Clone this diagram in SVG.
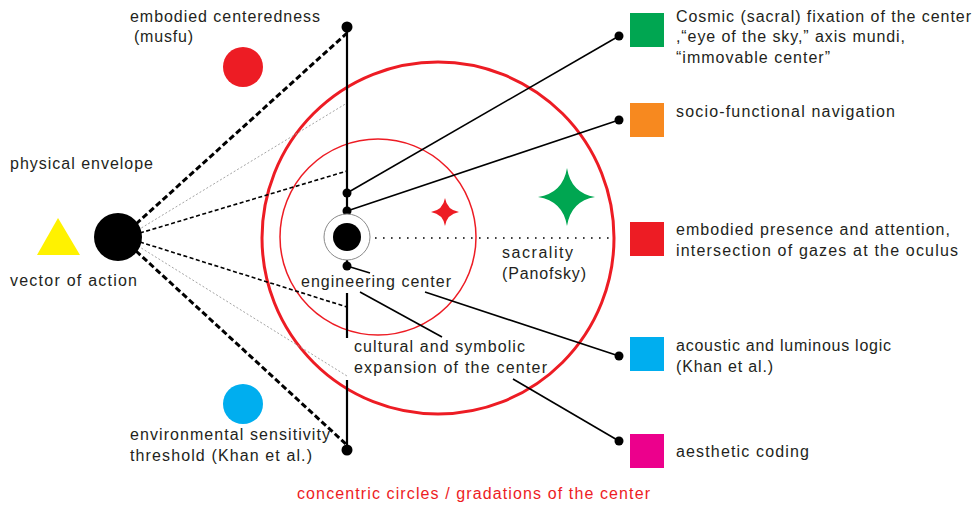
<svg xmlns="http://www.w3.org/2000/svg" width="975" height="506" viewBox="0 0 975 506">
<style>
text{font-family:"Liberation Sans",Arial,sans-serif;font-size:16px;fill:#231f20}
.red{fill:#ed1c24}
.ln{stroke:#000;stroke-width:1.6;fill:none}
.axis{stroke:#000;stroke-width:2.2;fill:none}
.thick{stroke:#000;stroke-width:3;stroke-dasharray:6 3;fill:none}
.thin{stroke:#000;stroke-width:1.6;stroke-dasharray:4 2.5;fill:none}
.gray{stroke:#9a9a9a;stroke-width:0.9;stroke-dasharray:2 2;fill:none}
.dot{fill:#000}
</style>
<rect width="975" height="506" fill="#fff"/>
<g id="circles">
<circle cx="438" cy="238" r="176" fill="none" stroke="#ed1c24" stroke-width="3"/>
<circle cx="378" cy="237" r="98" fill="none" stroke="#ed1c24" stroke-width="1.5"/>
</g>
<g id="connectors">
<line class="thick" x1="136" y1="224" x2="347" y2="33"/>
<line class="gray" x1="138" y1="230" x2="347" y2="103"/>
<line class="thin" x1="140" y1="233" x2="347" y2="171"/>
<line class="thin" x1="140" y1="242" x2="347" y2="307"/>
<line class="gray" x1="138" y1="246" x2="347" y2="376"/>
<line class="thick" x1="136" y1="251" x2="347" y2="445"/>
<line class="axis" x1="347" y1="27" x2="347" y2="214"/>
<line class="axis" x1="347" y1="260" x2="347" y2="266"/>
<line class="axis" x1="347" y1="293" x2="347" y2="338"/>
<line class="axis" x1="347" y1="380" x2="347" y2="450"/>
<line class="ln" x1="347" y1="193" x2="619" y2="36"/>
<line class="ln" x1="347" y1="211" x2="619" y2="120"/>
<line class="ln" x1="347" y1="266" x2="370" y2="273"/>
<line stroke="#000" stroke-width="1.6" stroke-dasharray="1.6 6.4" x1="375" y1="238" x2="614" y2="238"/>
<line class="ln" x1="360" y1="292" x2="442" y2="337"/>
<line class="ln" x1="425" y1="292" x2="619" y2="356"/>
<line class="ln" x1="513" y1="379" x2="619" y2="441"/>
<circle class="dot" cx="347" cy="27" r="5.5"/>
<circle class="dot" cx="347" cy="450" r="5.5"/>
<circle class="dot" cx="347" cy="193" r="4.5"/>
<circle class="dot" cx="347" cy="211" r="4.5"/>
<circle class="dot" cx="347" cy="266" r="4.5"/>
<circle class="dot" cx="619" cy="36" r="4.5"/>
<circle class="dot" cx="619" cy="120" r="4.5"/>
<circle class="dot" cx="619" cy="356" r="4.5"/>
<circle class="dot" cx="619" cy="441" r="4.5"/>
</g>
<g id="center-node">
<circle cx="347" cy="237" r="23" fill="#fff" stroke="#8a8a8a" stroke-width="1"/>
<circle cx="347" cy="237" r="14" fill="#000"/>
</g>
<g id="body-node">
<circle cx="118" cy="237" r="24" fill="#000"/>
</g>
<g id="triangle">
<polygon points="58,218 80,255 37,255" fill="#fff200"/>
</g>
<g id="red-dot"><circle cx="243" cy="67" r="20" fill="#ed1c24"/></g>
<g id="blue-dot"><circle cx="243" cy="404" r="20" fill="#00aeef"/></g>
<g id="stars">
<path d="M445,198 Q447,210 459,212 Q447,214 445,226 Q443,214 431,212 Q443,210 445,198 Z" fill="#ed1c24"/>
<path d="M567,168 Q571,193 595,197 Q571,201 567,226 Q563,201 538,197 Q563,193 567,168 Z" fill="#00a651"/>
</g>
<g id="legend">
<rect x="630" y="13" width="34" height="34" fill="#00a651"/>
<rect x="630" y="103" width="34" height="34" fill="#f7891f"/>
<rect x="630" y="222" width="34" height="34" fill="#ed1c24"/>
<rect x="630" y="337" width="34" height="34" fill="#00aeef"/>
<rect x="630" y="434" width="34" height="34" fill="#ec008c"/>
</g>
<g id="labels">
<text x="130" y="22" textLength="190">embodied centeredness</text>
<text x="134" y="42" textLength="59">(musfu)</text>
<text x="10" y="169" textLength="143">physical envelope</text>
<text x="10" y="286" textLength="127">vector of action</text>
<text x="130" y="440" textLength="200">environmental sensitivity</text>
<text x="130" y="461" textLength="182">threshold (Khan et al.)</text>
<text x="301" y="287" textLength="150">engineering center</text>
<text x="354" y="352" textLength="171">cultural and symbolic</text>
<text x="354" y="373" textLength="193">expansion of the center</text>
<text x="502" y="258" textLength="71">sacrality</text>
<text x="502" y="279" textLength="84">(Panofsky)</text>
<text x="676" y="22" textLength="295">Cosmic (sacral) fixation of the center</text>
<text x="676" y="42" textLength="229">,“eye of the sky,” axis mundi,</text>
<text x="676" y="63" textLength="154">“immovable center”</text>
<text x="676" y="117" textLength="219">socio-functional navigation</text>
<text x="676" y="235" textLength="274">embodied presence and attention,</text>
<text x="676" y="256" textLength="282">intersection of gazes at the oculus</text>
<text x="676" y="351" textLength="215">acoustic and luminous logic</text>
<text x="676" y="372" textLength="97">(Khan et al.)</text>
<text x="676" y="457" textLength="133">aesthetic coding</text>
<text class="red" x="297" y="499" textLength="353">concentric circles / gradations of the center</text>
</g>
</svg>
